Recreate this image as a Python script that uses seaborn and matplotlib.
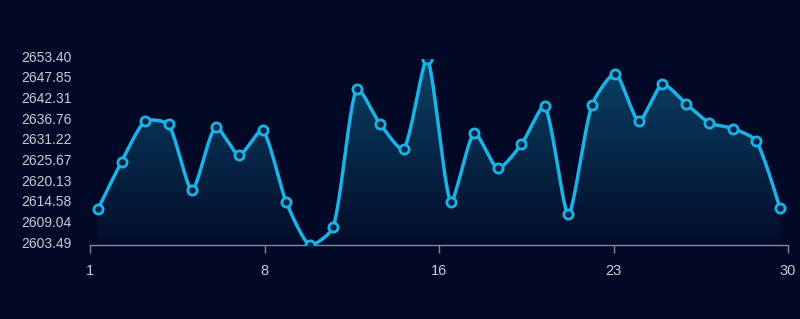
import numpy as np
import pandas as pd
import matplotlib
matplotlib.use("Agg")
import matplotlib.pyplot as plt
from matplotlib.patches import Polygon
from matplotlib.transforms import ScaledTranslation
import seaborn as sns

# ---- data ----
days = list(range(1, 31))
values = [2613.13, 2625.81, 2636.71, 2635.83, 2618.22, 2635.18, 2627.60, 2634.30,
          2615.09, 2603.49, 2608.23, 2645.47, 2635.91, 2629.13, 2653.40, 2615.09,
          2633.58, 2624.04, 2630.47, 2640.73, 2611.71, 2641.00, 2649.49, 2636.71,
          2646.62, 2641.45, 2636.25, 2634.75, 2631.35, 2613.32]
y_tick_labels = ["2603.49", "2609.04", "2614.58", "2620.13", "2625.67",
                 "2631.22", "2636.76", "2642.31", "2647.85", "2653.40"]
x_tick_labels = ["1", "8", "16", "23", "30"]

BG = "#020926"
LINE = "#19b3e6"
AXIS = "#7f889c"
TEXT = "#c9ccd4"

sns.set_theme(style="dark")
plt.rcParams["font.family"] = ["Liberation Sans", "DejaVu Sans"]

fig = plt.figure(figsize=(8.0, 3.19), dpi=100, facecolor=BG)
ax = fig.add_axes([90 / 800, 1 - 245 / 319, (788 - 90) / 800, (245 - 59) / 319])
ax.set_facecolor(BG)

ymin, ymax = float(y_tick_labels[0]), float(y_tick_labels[-1])
xmin, xmax = 1 - 8 / 23.5, 30 + 8 / 23.5
ax.set_xlim(xmin, xmax)
ax.set_ylim(ymin, ymax)

# ---- echarts-like smooth curve (computed in pixel space) ----
sx, sy = 23.5, 186.3 / (ymax - ymin)
px = np.array(days, float) * sx
py = (np.array(values) - ymin) * sy
n = len(px)
cpi = np.column_stack([px, py]).copy()
cpo = cpi.copy()
smooth = 0.22
for i in range(1, n - 1):
    vx, vy = px[i + 1] - px[i - 1], py[i + 1] - py[i - 1]
    d0 = np.hypot(px[i] - px[i - 1], py[i] - py[i - 1])
    d1 = np.hypot(px[i + 1] - px[i], py[i + 1] - py[i])
    r = d1 / (d0 + d1)
    cpi[i] = (px[i] - vx * smooth * (1 - r), py[i] - vy * smooth * (1 - r))
    cpo[i] = (px[i] + vx * smooth * r, py[i] + vy * smooth * r)
cx, cy = [], []
t = np.linspace(0, 1, 40)
for i in range(n - 1):
    p0 = np.array([px[i], py[i]]); p3 = np.array([px[i + 1], py[i + 1]])
    p1, p2 = cpo[i], cpi[i + 1]
    pts = ((1 - t)[:, None] ** 3 * p0 + 3 * ((1 - t) ** 2 * t)[:, None] * p1
           + 3 * ((1 - t) * t ** 2)[:, None] * p2 + (t ** 3)[:, None] * p3)
    if i > 0:
        pts = pts[1:]
    cx.extend(pts[:, 0]); cy.extend(pts[:, 1])
curve = pd.DataFrame({"x": np.array(cx) / sx, "y": np.array(cy) / sy + ymin})

# ---- gradient area ----
poly_xy = np.vstack([[curve.x.iloc[0], ymin], curve[["x", "y"]].values, [curve.x.iloc[-1], ymin]])
poly = Polygon(poly_xy, closed=True, facecolor="none", edgecolor="none")
ax.add_patch(poly)
grad = np.zeros((256, 1, 4))
rgb = matplotlib.colors.to_rgb(LINE)
grad[:, 0, 0:3] = rgb
grad[:, 0, 3] = np.linspace(0.34, 0.02, 256)
im = ax.imshow(grad, extent=[xmin, xmax, ymin, ymax], origin="upper",
               aspect="auto", zorder=1, interpolation="bilinear")
im.set_clip_path(poly)

sns.lineplot(data=curve, x="x", y="y", sort=False, estimator=None, ax=ax,
             color=LINE, linewidth=2.5, zorder=3)
pts_df = pd.DataFrame({"day": days, "value": values})
sns.scatterplot(data=pts_df, x="day", y="value", ax=ax, s=44, marker="o",
                facecolor="#0b2444", edgecolor=LINE, linewidth=2.0, zorder=4)

# ---- axes styling ----
ax.set_xlabel(""); ax.set_ylabel("")
ax.grid(False)
for s in ["top", "right", "left"]:
    ax.spines[s].set_visible(False)
ax.spines["bottom"].set_color(AXIS)
ax.spines["bottom"].set_linewidth(1.0)
ax.set_xticks(np.linspace(xmin, xmax, 5))
ax.set_xticklabels(x_tick_labels)
ax.set_yticks(np.linspace(ymin, ymax, 10))
ax.set_yticklabels(y_tick_labels)
ax.tick_params(axis="x", colors=AXIS, length=6, width=1, pad=8, labelsize=10.5,
               labelcolor=TEXT, direction="out", bottom=True)
ax.tick_params(axis="y", length=0, pad=13, labelsize=10, labelcolor=TEXT, left=False)
off = ScaledTranslation(0, 3 / 100, fig.dpi_scale_trans)
for lab in ax.get_yticklabels():
    lab.set_transform(lab.get_transform() + off)

fig.savefig("out.png", dpi=100, facecolor=BG)
